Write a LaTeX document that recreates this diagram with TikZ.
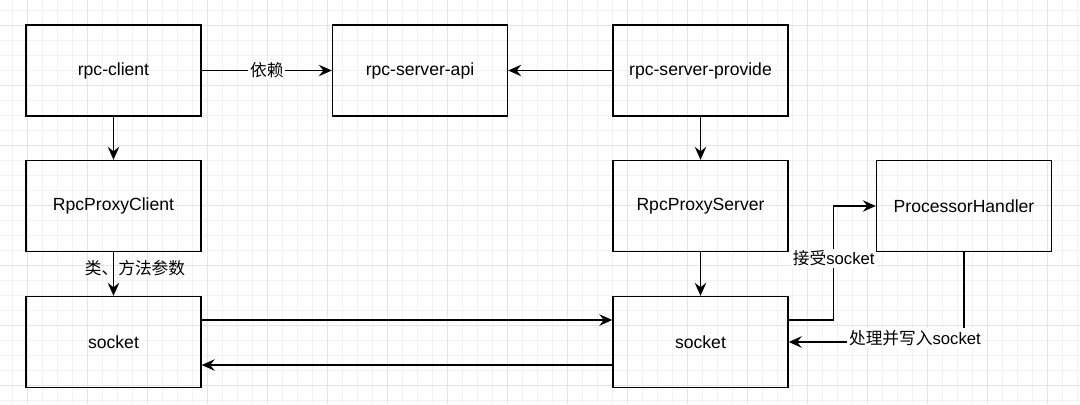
\documentclass[tikz,border=0pt]{standalone}
\usepackage{fontspec}
\setmainfont{Liberation Sans}
\newfontfamily\cjk{Noto Sans CJK SC}
\usetikzlibrary{arrows,arrows.meta}
\tikzset{
    box/.style={draw, thick, minimum width=3.5cm, minimum height=1.82cm, inner sep=0pt, font=\fontsize{10}{12}\selectfont},
    lbl/.style={font=\fontsize{9.5}{11}\selectfont, fill=white, inner sep=1pt},
    gridminor/.style={draw=black!5, line width=0.4pt},
    gridmajor/.style={draw=black!10, line width=0.5pt}
}

\begin{document}
\begin{tikzpicture}[>={Stealth[length=2.6mm, width=2.3mm, inset=0.9mm]}]
        \useasboundingbox (0,0) rectangle (21.6,8.08);
        \begin{scope}[shift={(0.54,0.38)}]
            \draw[gridminor, step=0.3] (-0.54,-0.38) grid (21.06,7.7);
            \draw[gridmajor, step=1.2] (-0.54,-0.38) grid (21.06,7.7);
        \end{scope}

        \node[box] (client) at (2.27,6.67) {rpc-client};
        \node[box] (api) at (8.4,6.67) {rpc-server-api};
        \node[box] (provide) at (14.01,6.67) {rpc-server-provide};
        \node[box] (proxyC) at (2.27,3.96) {RpcProxyClient};
        \node[box] (proxyS) at (14.01,3.96) {RpcProxyServer};
        \node[box] (proc) at (19.28,3.96) {ProcessorHandler};
        \node[box] (sockC) at (2.27,1.24) {socket};
        \node[box] (sockS) at (14.01,1.24) {socket};

        \draw[->, thick] (client) -- (api) node[lbl, midway] {\cjk 依赖};
        \draw[->, thick] (provide) -- (api);
        \draw[->, thick] (client) -- (proxyC);
        \draw[->, thick] (proxyC) -- (sockC) node[midway, xshift=0.43cm, yshift=0.12cm, font=\fontsize{9.5}{11}\selectfont, inner sep=0pt] {\cjk 类、方法参数};
        \draw[->, thick] (provide) -- (proxyS);
        \draw[->, thick] (proxyS) -- (sockS);

        \draw[->, thick] ([yshift=0.44cm]sockC.east) -- ([yshift=0.44cm]sockS.west);
        \draw[->, thick] ([yshift=-0.46cm]sockS.west) -- ([yshift=-0.46cm]sockC.east);

        \draw[->, thick] ([yshift=0.44cm]sockS.east) -- ++(0.9,0) |- (proc.west) node[lbl, pos=0.27] {{\cjk 接受}socket};
        \draw[->, thick] (proc.south) |- (sockS.east) node[lbl, pos=0.64, yshift=0.08cm] {{\cjk 处理并写入}socket};
    \end{tikzpicture}
\end{document}
